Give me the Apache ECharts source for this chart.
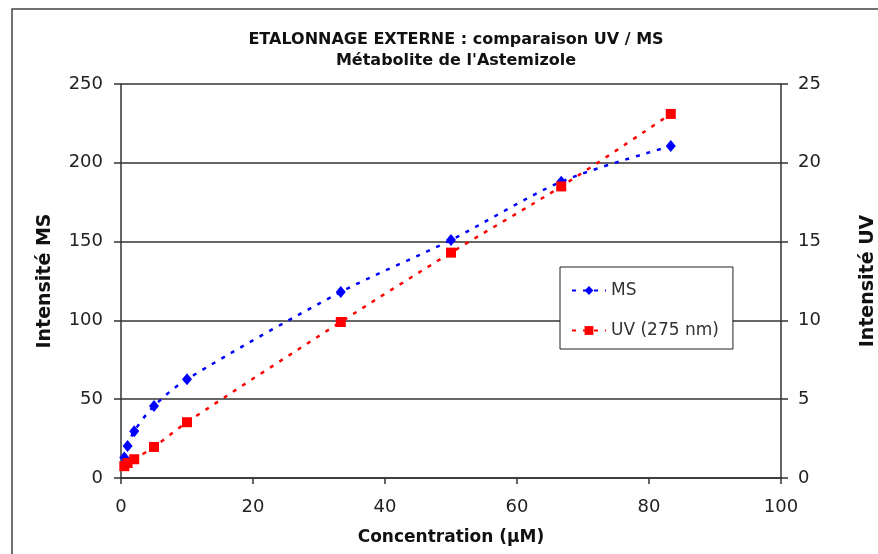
<!DOCTYPE html>
<html>
<head>
<meta charset="utf-8">
<script src="https://cdn.jsdelivr.net/npm/echarts@6/dist/echarts.min.js"></script>
<style>html,body{margin:0;padding:0;background:#fff;}#c{width:878px;height:554px;}</style>
</head>
<body>
<div id="c"></div>
<script>
const concentrations = [0.5, 1, 2, 5, 10, 33.3, 50, 66.7, 83.3];
const msValues = [13, 20.3, 29.7, 45.7, 62.7, 118, 151, 188, 210.6];
const uvValues = [0.75, 0.95, 1.19, 1.97, 3.54, 9.9, 14.3, 18.5, 23.1];
const xTicks = [0, 20, 40, 60, 80, 100];
const msTicks = [0, 50, 100, 150, 200, 250];
const uvTicks = [0, 5, 10, 15, 20, 25];

const font = 'DejaVu Sans, Verdana, sans-serif';
const chart = echarts.init(document.getElementById('c'), null, {renderer: 'canvas'});
chart.setOption({
  animation: false,
  backgroundColor: '#fff',
  textStyle: {fontFamily: font},
  title: {
    text: 'ETALONNAGE EXTERNE : comparaison UV / MS\nMétabolite de l\'Astemizole',
    left: 451, top: 24, textAlign: 'center',
    textStyle: {fontFamily: font, fontSize: 16, fontWeight: 'bold', color: '#111', lineHeight: 21}
  },
  graphic: [{
    type: 'rect', shape: {x: 12, y: 9, width: 900, height: 600},
    style: {fill: 'none', stroke: '#444', lineWidth: 1.5}, silent: true
  }],
  grid: {left: 121, right: 97, top: 84, bottom: 76, containLabel: false, outerBoundsMode: 'none'},
  legend: {
    orient: 'vertical', left: 560, top: 267,
    backgroundColor: '#fff', borderColor: '#222', borderWidth: 1,
    padding: [15, 14, 10, 11], itemGap: 23, itemWidth: 34, itemHeight: 11,
    textStyle: {fontFamily: font, fontSize: 17, color: '#333'},
    data: ['MS', 'UV (275 nm)']
  },
  xAxis: {
    type: 'value', min: 0, max: 100, interval: 20,
    name: 'Concentration (µM)', nameLocation: 'middle', nameGap: 51,
    nameTextStyle: {fontFamily: font, fontSize: 17, fontWeight: 'bold', color: '#111'},
    axisLine: {show: true, lineStyle: {color: '#333', width: 1.5}},
    axisTick: {show: true, length: 6, lineStyle: {color: '#333', width: 1.5}},
    axisLabel: {fontFamily: font, fontSize: 18, color: '#222', margin: 20,
      formatter: v => xTicks.includes(v) ? String(v) : ''},
    splitLine: {show: false}
  },
  yAxis: [{
    type: 'value', min: 0, max: 250, interval: 50, position: 'left',
    name: 'Intensité MS', nameLocation: 'middle', nameGap: 66,
    nameTextStyle: {fontFamily: font, fontSize: 19, fontWeight: 'bold', color: '#111'},
    axisLine: {show: true, lineStyle: {color: '#333', width: 1.5}},
    axisTick: {show: true, length: 7, lineStyle: {color: '#333', width: 1.5}},
    axisLabel: {fontFamily: font, fontSize: 18, color: '#222', margin: 18,
      formatter: v => msTicks.includes(v) ? String(v) : ''},
    splitLine: {show: true, lineStyle: {color: '#333', width: 1.5}}
  }, {
    type: 'value', min: 0, max: 25, interval: 5, position: 'right',
    name: 'Intensité UV', nameLocation: 'middle', nameGap: 78,
    nameTextStyle: {fontFamily: font, fontSize: 19, fontWeight: 'bold', color: '#111'},
    axisLine: {show: true, lineStyle: {color: '#333', width: 1.5}},
    axisTick: {show: true, length: 7, lineStyle: {color: '#333', width: 1.5}},
    axisLabel: {fontFamily: font, fontSize: 18, color: '#222', margin: 17,
      formatter: v => uvTicks.includes(v) ? String(v) : ''},
    splitLine: {show: false}
  }],
  series: [{
    name: 'MS', type: 'line', yAxisIndex: 0,
    data: concentrations.map((x, i) => [x, msValues[i]]),
    smooth: 0.3, symbol: 'diamond', symbolSize: [10, 12],
    itemStyle: {color: '#0000ff'},
    lineStyle: {color: '#0000ff', width: 2.5, type: [4, 7]}
  }, {
    name: 'UV (275 nm)', type: 'line', yAxisIndex: 1,
    data: concentrations.map((x, i) => [x, uvValues[i]]),
    smooth: 0.3, symbol: 'rect', symbolSize: 10,
    itemStyle: {color: '#ff0000'},
    lineStyle: {color: '#ff0000', width: 2.5, type: [4, 7]}
  }]
});
</script>
</body>
</html>
